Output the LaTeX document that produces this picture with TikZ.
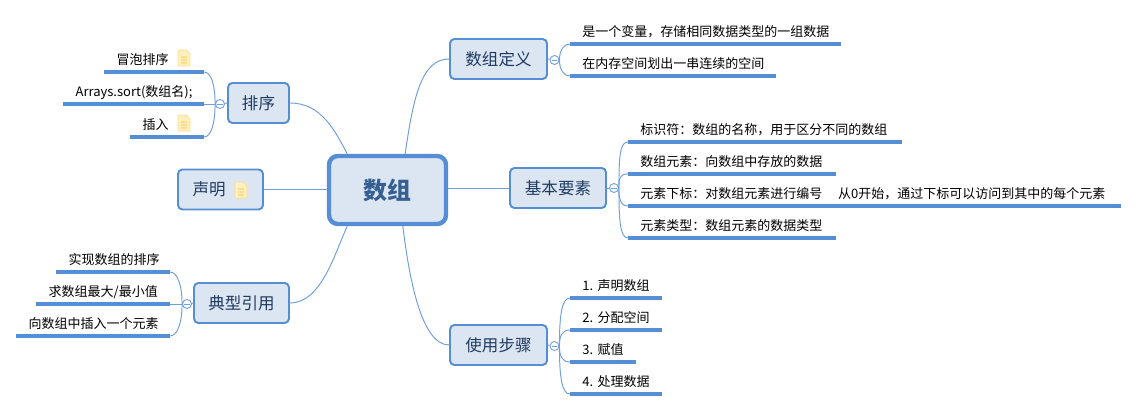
\documentclass[tikz,border=0pt]{standalone}
\usepackage{fontspec}
\setmainfont{Noto Sans CJK SC}
\usepackage{xcolor}
\definecolor{edgeblue}{HTML}{558ED5}
\definecolor{linkblue}{HTML}{6F9FDC}
\definecolor{boxfill}{HTML}{DCE6F2}
\definecolor{boxtext}{HTML}{1F3A60}
\definecolor{roottext}{HTML}{376092}
\definecolor{notefill}{HTML}{FFF0BE}
\definecolor{noteedge}{HTML}{FBDD90}
\def\px{0.02cm}
\def\notegap{\hspace*{13.6pt}\mbox{}}
\newcommand{\leafbar}[1]{\fill[edgeblue] ([yshift=-1.1pt]#1.south west) rectangle ([yshift=1.1pt]#1.south east);}

\begin{document}
\begin{tikzpicture}[
  x=\px,y=-\px,
  root/.style={draw=edgeblue,fill=boxfill,line width=2.5pt,rounded corners=5pt,
    minimum width=117*\px,minimum height=68*\px,inner sep=0pt,text=roottext,
    font=\fontsize{13.6}{16}\selectfont\bfseries},
  branch/.style={draw=edgeblue,fill=boxfill,line width=1.1pt,rounded corners=2.5pt,
    minimum width=#1*\px,minimum height=40*\px,inner sep=0pt,text=boxtext,
    font=\fontsize{9.4}{11}\selectfont},
  leaf/.style={inner xsep=12*\px,inner ysep=1.7pt,text width=(#1-24)*\px,
    text height=7.5pt,text depth=2.5pt,font=\fontsize{7.4}{9}\selectfont},
  rleaf/.style={leaf=#1,anchor=south west,align=left},
  lleaf/.style={leaf=#1,anchor=south east,align=right},
  link/.style={draw=linkblue,line width=0.55pt},
  fold/.style={circle,draw=linkblue,fill=white,line width=0.5pt,inner sep=0pt,
    minimum size=9*\px,text=linkblue,font=\fontsize{4}{4}\selectfont},
  note/.pic={
    \draw[noteedge,fill=notefill,line width=0.5pt] (-6,-8) -- (2,-8) -- (6,-4) -- (6,8) -- (-6,8) -- cycle;
    \draw[noteedge,line width=0.8pt] (-3,-1) -- (3,-1) (-3,2) -- (3,2) (-3,5) -- (3,5);
  }
  ]
\useasboundingbox (0,0) rectangle (1137,411);
% centre and branches
\node[root] (arr) at (387.5,190) {数组};
\node[branch=61] (sort) at (258.5,103) {排序};
\node[branch=85] (decl) at (220.5,189.5) {声明\hspace*{13pt}};
\node[branch=95] (use) at (241.5,303) {典型引用};
\node[branch=97] (def) at (498.5,59) {数组定义};
\node[branch=96] (elem) at (558,188) {基本要素};
\node[branch=97] (steps) at (498.5,345) {使用步骤};
\draw[link] (sort.east) .. controls +(32,0) and +(-12,-22) .. (arr.138);
\draw[link] (decl.east) -- (arr.west |- decl.east);
\draw[link] (use.east) .. controls +(32,0) and +(-12,25) .. (arr.222);
\draw[link] (def.west) .. controls +(-28,0) and +(8,-55) .. (arr.64);
\draw[link] (elem.west) -- (arr.east |- elem.west);
\draw[link] (steps.west) .. controls +(-28,0) and +(6,50) .. (arr.293);
% fold marks
\node[fold] (sortf) at (220,104) {\rule{3pt}{0.4pt}};
\node[fold] (usef) at (187,304) {\rule{3pt}{0.4pt}};
\node[fold] (deff) at (554.5,60) {\rule{3pt}{0.4pt}};
\node[fold] (elemf) at (614,188) {\rule{3pt}{0.4pt}};
\node[fold] (stepsf) at (554.5,346) {\rule{3pt}{0.4pt}};
\draw[link] (sort.west) -- (sortf);
\draw[link] (use.west) -- (usef);
\draw[link] (def.east) -- (deff);
\draw[link] (elem.east) -- (elemf);
\draw[link] (steps.east) -- (stepsf);
% sort leaves
\node[lleaf=99] (s1) at (204,72) {冒泡排序\notegap};
\node[lleaf=140] (s2) at (204,104) {Arrays.sort(数组名);};
\node[lleaf=73] (s3) at (204,137) {插入\notegap};
\pic at (184,58) {note};
\pic at (184,123) {note};
\pic at (241,190) {note};
\leafbar{s1}
\leafbar{s2}
\leafbar{s3}
\draw[link] (sortf.west) .. controls +(0,-20) and +(7,0) .. (s1.south east);
\draw[link] (sortf.west) -- (s2.south east);
\draw[link] (sortf.west) .. controls +(0,20) and +(7,0) .. (s3.south east);
% use leaves
\node[lleaf=113] (u1) at (170,272) {实现数组的排序};
\node[lleaf=133] (u2) at (170,304) {求数组最大/最小值};
\node[lleaf=153] (u3) at (170,336) {向数组中插入一个元素};
\leafbar{u1}
\leafbar{u2}
\leafbar{u3}
\draw[link] (usef.west) .. controls +(0,-20) and +(7,0) .. (u1.south east);
\draw[link] (usef.west) -- (u2.south east);
\draw[link] (usef.west) .. controls +(0,20) and +(7,0) .. (u3.south east);
% definition leaves
\node[rleaf=270] (d1) at (570,44) {是一个变量，存储相同数据类型的一组数据};
\node[rleaf=205] (d2) at (570,76) {在内存空间划出一串连续的空间};
\leafbar{d1}
\leafbar{d2}
\draw[link] (deff.east) .. controls +(0,-10) and +(-6,0) .. (d1.south west);
\draw[link] (deff.east) .. controls +(0,10) and +(-6,0) .. (d2.south west);
% element leaves
\node[rleaf=273] (e1) at (628,142) {标识符：数组的名称，用于区分不同的数组};
\node[rleaf=207] (e2) at (628,174) {数组元素：向数组中存放的数据};
\node[rleaf=492] (e3) at (628,206) {元素下标：对数组元素进行编号\hspace{9pt}从0开始，通过下标可以访问到其中的每个元素};
\node[rleaf=207] (e4) at (628,238) {元素类型：数组元素的数据类型};
\leafbar{e1}
\leafbar{e2}
\leafbar{e3}
\leafbar{e4}
\draw[link] (elemf.east) .. controls +(0,-32) and +(-8,0) .. (e1.south west);
\draw[link] (elemf.east) .. controls +(0,-10) and +(-8,0) .. (e2.south west);
\draw[link] (elemf.east) .. controls +(0,10) and +(-8,0) .. (e3.south west);
\draw[link] (elemf.east) .. controls +(0,32) and +(-8,0) .. (e4.south west);
% step leaves
\node[rleaf=91] (t1) at (570,298) {1.~声明数组};
\node[rleaf=91] (t2) at (570,330) {2.~分配空间};
\node[rleaf=65] (t3) at (570,362) {3.~赋值};
\node[rleaf=91] (t4) at (570,394) {4.~处理数据};
\leafbar{t1}
\leafbar{t2}
\leafbar{t3}
\leafbar{t4}
\draw[link] (stepsf.east) .. controls +(0,-32) and +(-8,0) .. (t1.south west);
\draw[link] (stepsf.east) .. controls +(0,-10) and +(-8,0) .. (t2.south west);
\draw[link] (stepsf.east) .. controls +(0,10) and +(-8,0) .. (t3.south west);
\draw[link] (stepsf.east) .. controls +(0,32) and +(-8,0) .. (t4.south west);
\end{tikzpicture}
\end{document}
